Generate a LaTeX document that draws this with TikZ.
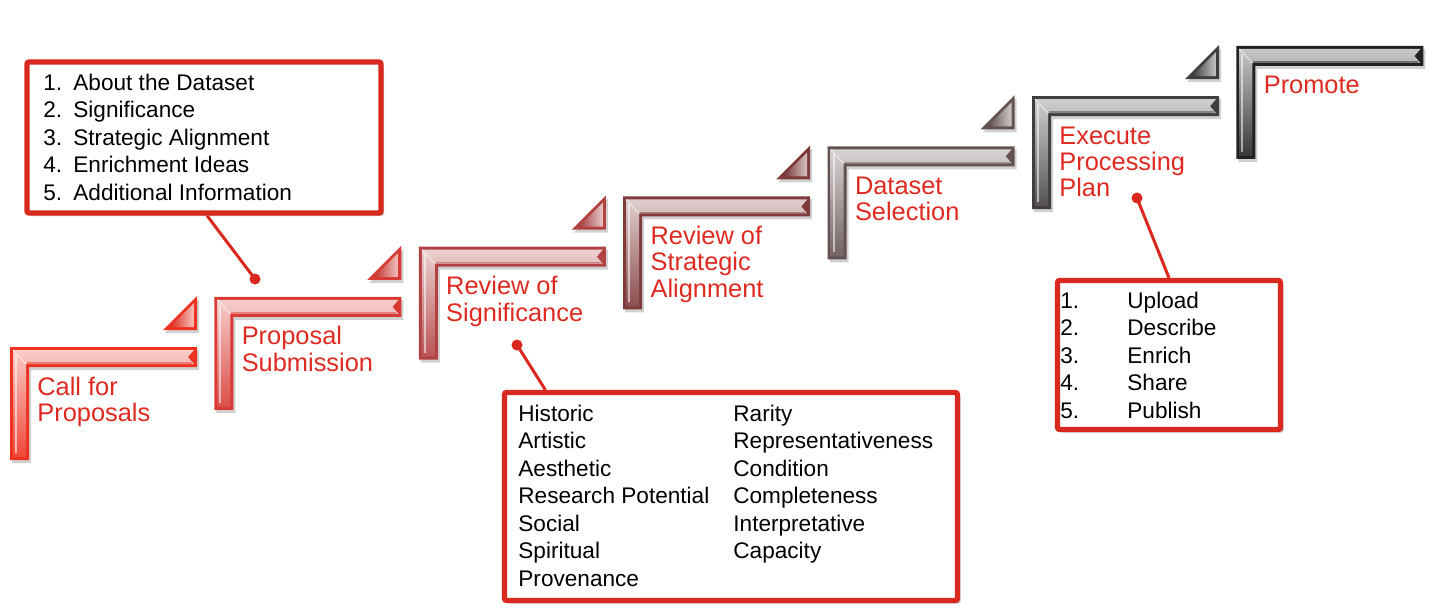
\documentclass[tikz,border=0pt]{standalone}
\usepackage{fontspec}
\setmainfont{Liberation Sans}
\usepackage{array}
\usetikzlibrary{shadows,calc}
\definecolor{lblred}{RGB}{222,42,32}
\definecolor{boxred}{RGB}{217,40,30}
\definecolor{sA}{RGB}{238,50,34}
\definecolor{sB}{RGB}{216,58,52}
\definecolor{sC}{RGB}{178,66,66}
\definecolor{sD}{RGB}{128,58,58}
\definecolor{sE}{RGB}{100,82,82}
\definecolor{sF}{RGB}{66,62,62}
\definecolor{sG}{RGB}{34,34,34}
\tikzset{
  lbl/.style={anchor=base west, inner sep=0pt, text=lblred, font=\fontsize{12.7}{13.2}\selectfont},
  lst/.style={anchor=base west, inner sep=0pt, text=black, font=\fontsize{11.3}{13.75}\selectfont},
  callbox/.style={draw=boxred, line width=2.6pt, fill=white, rounded corners=1pt, inner sep=0pt,
    drop shadow={shadow xshift=1.5pt, shadow yshift=-1.5pt, opacity=0.35, fill=black!60}},
  callline/.style={draw=boxred, line width=1.5pt},
  calldot/.style={circle, fill=boxred, inner sep=0pt, minimum size=5.5pt},
}
\begin{document}
\begin{tikzpicture}[x=0.5pt,y=-0.5pt]
\useasboundingbox[fill=white] (0,0) rectangle (1431,616);

% ---- steps ----
\foreach \i/\c in {0/sA,1/sB,2/sC,3/sD,4/sE,5/sF,6/sG}{
  \pgfmathsetmacro{\X}{10+204.4*\i}
  \pgfmathsetmacro{\Y}{347-50.17*\i}
  \begin{scope}[shift={(\X,\Y)}]
    \coordinate (st\i) at (0,0);
    % shadow
    \fill[black,opacity=0.18] (2,3) -- (189,3) -- (189,23) -- (21,23) -- (21,116) -- (2,116) -- cycle;
    % bar
    \fill[\c] (0,0) -- (187,0) -- (187,20) -- (19,20) -- (19,113) -- (0,113) -- cycle;
    \shade[top color=\c!25!white, bottom color=\c!90!white]
      (3,3) -- (184,3) -- (178,10) -- (184,17) -- (16,17) -- (16,110) -- (3,110) -- cycle;
    \draw[white,opacity=0.55,line width=1pt] (6,8) -- (6,106);
    \draw[\c!65!white, line width=0.7pt] (17,16) -- (182,16);
    \draw[white, opacity=0.5, line width=0.6pt] (3,3) -- (16,17);
  \end{scope}
}
% ---- triangles (above the right end of steps 1-6) ----
\foreach \i/\c in {0/sA,1/sB,2/sC,3/sD,4/sE,5/sF}{
  \pgfmathsetmacro{\X}{10+204.4*\i}
  \pgfmathsetmacro{\Y}{347-50.17*\i}
  \begin{scope}[shift={(\X,\Y)}]
    \fill[black,opacity=0.18] (155,-14) -- (189,-14) -- (189,-48) -- cycle;
    \fill[\c] (153,-17) -- (187,-17) -- (187,-51) -- cycle;
    \shade[left color=\c!90!black, right color=\c!30!white] (160,-20) -- (184,-20) -- (184,-44) -- cycle;
  \end{scope}
}

% ---- step labels ----
\node[lbl] (lab1) at ($(st0)+(27,48)$) {\begin{tabular}[t]{@{}l@{}}Call for\\Proposals\end{tabular}};
\node[lbl] (lab2) at ($(st1)+(27,48)$) {\begin{tabular}[t]{@{}l@{}}Proposal\\Submission\end{tabular}};
\node[lbl] (lab3) at ($(st2)+(27,48)$) {\begin{tabular}[t]{@{}l@{}}Review of\\Significance\end{tabular}};
\node[lbl] (lab4) at ($(st3)+(27,48)$) {\begin{tabular}[t]{@{}l@{}}Review of\\Strategic\\Alignment\end{tabular}};
\node[lbl] (lab5) at ($(st4)+(27,48)$) {\begin{tabular}[t]{@{}l@{}}Dataset\\Selection\end{tabular}};
\node[lbl] (lab6) at ($(st5)+(27,48)$) {\begin{tabular}[t]{@{}l@{}}Execute\\Processing\\Plan\end{tabular}};
\node[lbl] (lab7) at ($(st6)+(27,48)$) {\begin{tabular}[t]{@{}l@{}}Promote\end{tabular}};

% ---- callout 1 ----
\node[callbox, minimum width=177pt, minimum height=75.5pt] (box1) at (204,137.5) {};
\node[lst] (txt1) at (43,90) {\begin{tabular}[t]{@{}p{15pt}@{}l@{}}
1.&About the Dataset\\2.&Significance\\3.&Strategic Alignment\\4.&Enrichment Ideas\\5.&Additional Information\end{tabular}};
\node[calldot] (dot1) at (255,279) {};
\draw[callline] ($(box1.south)+(3,0)$) -- (dot1.center);

% ---- callout 2 ----
\node[callbox, minimum width=226.5pt, minimum height=104pt] (box2) at (731,496.5) {};
\node[lst] (txt2) at (518,421) {\begin{tabular}[t]{@{}p{107.5pt}@{}l@{}}
Historic&Rarity\\Artistic&Representativeness\\Aesthetic&Condition\\Research Potential&Completeness\\
Social&Interpretative\\Spiritual&Capacity\\Provenance&\end{tabular}};
\node[calldot] (dot2) at (517,345) {};
\draw[callline] ($(box2.north west)+(43.5,0)$) -- (dot2.center);

% ---- callout 3 ----
\node[callbox, minimum width=111.5pt, minimum height=74.5pt] (box3) at (1169,355) {};
\node[lst] (txt3) at (1060,308) {\begin{tabular}[t]{@{}p{33.5pt}@{}l@{}}
1.&Upload\\2.&Describe\\3.&Enrich\\4.&Share\\5.&Publish\end{tabular}};
\node[calldot] (dot3) at (1137,198) {};
\draw[callline] (box3.north) -- (dot3.center);
\end{tikzpicture}
\end{document}
